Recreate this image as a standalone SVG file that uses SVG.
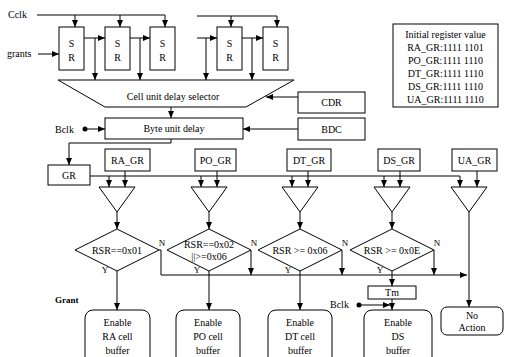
<svg xmlns="http://www.w3.org/2000/svg" width="505" height="357" viewBox="0 0 505 357">
<style>
text{font-family:"Liberation Serif","Times New Roman",serif;font-size:10px;fill:#000;text-anchor:middle}
.l{text-anchor:start}
.b{font-weight:bold}
.s{font-size:9px}
rect,polygon{fill:#fff;stroke:#000;stroke-width:1}
.c path,.c line,.c polyline{fill:none;stroke:#000;stroke-width:1}
.c .a{marker-end:url(#ah)}
</style>
<defs>
<marker id="ah" viewBox="0 0 7 6" refX="7" refY="3" markerWidth="7" markerHeight="6" orient="auto" markerUnits="userSpaceOnUse"><path d="M0,0 L7,3 L0,6 z" fill="#000"/></marker>
</defs>
<rect x="0" y="0" width="505" height="357" style="stroke:none"/>

<g class="c" id="connectors">
<path class="a" d="M37,15 H165 V27"/>
<path class="a" d="M75,15 V27"/>
<path class="a" d="M120,15 V27"/>
<path class="a" d="M197,16 H277 V27"/>
<path class="a" d="M231,16 V27"/>
<path class="a" d="M38,54 H59"/>
<path class="a" d="M84,38 H105"/>
<path class="a" d="M95,38 V80"/>
<path class="a" d="M130,38 H150"/>
<path class="a" d="M140,38 V80"/>
<path class="a" d="M197,38 H217"/>
<path class="a" d="M206,38 V80"/>
<path class="a" d="M242,38 H263"/>
<path class="a" d="M252,38 V80"/>
<path class="a" d="M298,97 H266"/>
<path class="a" d="M171,107 V118"/>
<path class="a" d="M298,129 H243"/>
<path class="a" d="M85,129 H105"/>
<path class="a" d="M171,139 V143 H69 V165"/>
<path class="a" d="M90,176 H460 V187"/>
<path class="a" d="M109,176 V187"/>
<path class="a" d="M201,176 V187"/>
<path class="a" d="M292,176 V187"/>
<path class="a" d="M384,176 V187"/>
<path class="a" d="M125,171 V187"/>
<path class="a" d="M217,171 V187"/>
<path class="a" d="M308,171 V187"/>
<path class="a" d="M400,171 V187"/>
<path class="a" d="M477,171 V187"/>
<path class="a" d="M117,212 V229"/>
<path class="a" d="M209,212 V229"/>
<path class="a" d="M300,212 V229"/>
<path class="a" d="M392,212 V229"/>
<path class="a" d="M469,212 V307"/>
<path class="a" d="M117,271 V310"/>
<path class="a" d="M209,271 V310"/>
<path class="a" d="M300,271 V310"/>
<path class="a" d="M392,271 V286"/>
<path class="a" d="M392,299 V310"/>
<path class="a" d="M359,305 H390"/>
<path class="a" d="M159,250 H161 V275 H467"/>
<path class="a" d="M251,250 V275"/>
<path class="a" d="M342,250 V275"/>
<path class="a" d="M434,250 V275"/>
<circle cx="85" cy="129" r="2.5" fill="#000"/>
<circle cx="359" cy="305" r="2.5" fill="#000"/>
</g>

<g id="labels">
<text class="l" x="8" y="18">Cclk</text>
<text class="l" x="7" y="57">grants</text>
<text class="l" x="55" y="133">Bclk</text>
<text class="l" x="330" y="308">Bclk</text>
<text class="l b s" x="55" y="303">Grant</text>
<text class="s" x="162" y="246">N</text>
<text class="s" x="254" y="246">N</text>
<text class="s" x="345" y="246">N</text>
<text class="s" x="437" y="246">N</text>
<text class="s" x="105" y="273">Y</text>
<text class="s" x="197" y="273">Y</text>
<text class="s" x="288" y="273">Y</text>
<text class="s" x="380" y="273">Y</text>
</g>

<g id="sr1"><rect x="59" y="27" width="25" height="43"/><text x="71.5" y="47">S</text><text x="71.5" y="61">R</text></g>
<g id="sr2"><rect x="105" y="27" width="25" height="43"/><text x="117.5" y="47">S</text><text x="117.5" y="61">R</text></g>
<g id="sr3"><rect x="150" y="27" width="25" height="43"/><text x="162.5" y="47">S</text><text x="162.5" y="61">R</text></g>
<g id="sr4"><rect x="217" y="27" width="25" height="43"/><text x="229.5" y="47">S</text><text x="229.5" y="61">R</text></g>
<g id="sr5"><rect x="263" y="27" width="25" height="43"/><text x="275.5" y="47">S</text><text x="275.5" y="61">R</text></g>

<g id="selector"><polygon points="58,80 294,80 246,107 105,107"/><text x="173" y="100">Cell unit delay selector</text></g>
<g id="cdr"><rect x="298" y="92" width="67" height="21"/><text x="331.5" y="106">CDR</text></g>
<g id="bdc"><rect x="298" y="118" width="67" height="22"/><text x="331.5" y="133">BDC</text></g>
<g id="byte"><rect x="105" y="118" width="138" height="21"/><text x="174" y="132">Byte unit delay</text></g>
<g id="gr"><rect x="48" y="165" width="42" height="20"/><text x="69" y="179">GR</text></g>

<g id="initial">
<rect x="393" y="24" width="105" height="83"/>
<text x="445.5" y="38">Initial register value</text>
<text x="445.5" y="51">RA_GR:1111 1101</text>
<text x="445.5" y="64">PO_GR:1111 1110</text>
<text x="445.5" y="77">DT_GR:1111 1110</text>
<text x="445.5" y="90">DS_GR:1111 1110</text>
<text x="445.5" y="103">UA_GR:1111 1110</text>
</g>

<g id="ra_gr"><rect x="105" y="149" width="45" height="22"/><text x="127.5" y="164">RA_GR</text></g>
<g id="po_gr"><rect x="195" y="149" width="41" height="22"/><text x="215.5" y="164">PO_GR</text></g>
<g id="dt_gr"><rect x="287" y="149" width="44" height="22"/><text x="309" y="164">DT_GR</text></g>
<g id="ds_gr"><rect x="378" y="149" width="42" height="22"/><text x="399" y="164">DS_GR</text></g>
<g id="ua_gr"><rect x="452" y="149" width="45" height="22"/><text x="474.5" y="164">UA_GR</text></g>

<g id="buf1"><polygon points="99,187 135,187 117,212"/></g>
<g id="buf2"><polygon points="191,187 227,187 209,212"/></g>
<g id="buf3"><polygon points="282,187 318,187 300,212"/></g>
<g id="buf4"><polygon points="374,187 410,187 392,212"/></g>
<g id="buf5"><polygon points="451,187 487,187 469,212"/></g>

<g id="d1"><polygon points="75,250 117,229 159,250 117,271"/><text x="117" y="254">RSR==0x01</text></g>
<g id="d2"><polygon points="167,250 209,229 251,250 209,271"/><text x="209" y="248">RSR==0x02</text><text x="209" y="260">||&gt;=0x06</text></g>
<g id="d3"><polygon points="258,250 300,229 342,250 300,271"/><text x="300" y="254">RSR &gt;= 0x06</text></g>
<g id="d4"><polygon points="350,250 392,229 434,250 392,271"/><text x="392" y="254">RSR &gt;= 0x0E</text></g>

<g id="tm"><rect x="368" y="286" width="48" height="13"/><text x="392" y="296">Tm</text></g>

<g id="en_ra"><rect x="85" y="310" width="65" height="60" rx="8"/><text x="117.5" y="326">Enable</text><text x="117.5" y="340">RA cell</text><text x="117.5" y="354">buffer</text></g>
<g id="en_po"><rect x="176" y="310" width="64" height="60" rx="8"/><text x="208" y="326">Enable</text><text x="208" y="340">PO cell</text><text x="208" y="354">buffer</text></g>
<g id="en_dt"><rect x="268" y="310" width="64" height="60" rx="8"/><text x="300" y="326">Enable</text><text x="300" y="340">DT cell</text><text x="300" y="354">buffer</text></g>
<g id="en_ds"><rect x="364" y="310" width="68" height="60" rx="8"/><text x="398" y="326">Enable</text><text x="398" y="340">DS</text><text x="398" y="354">buffer</text></g>
<g id="noaction"><rect x="441" y="307" width="62" height="28" rx="6"/><text x="472" y="319">No</text><text x="472" y="331">Action</text></g>
</svg>
